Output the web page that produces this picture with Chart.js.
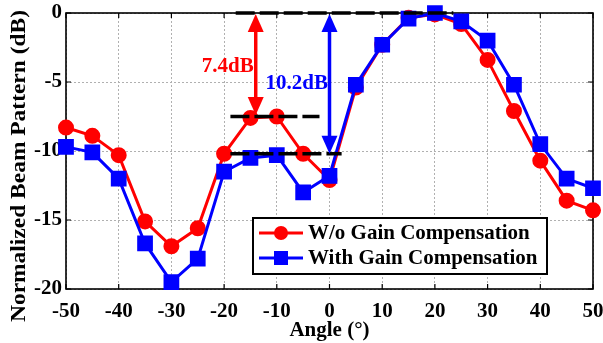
<!DOCTYPE html>
<html>
<head>
<meta charset="utf-8">
<script src="https://cdn.jsdelivr.net/npm/chart.js@4.4.0/dist/chart.umd.min.js"></script>
<style>
  html, body { margin: 0; padding: 0; background: #fff; }
  #wrap { width: 603px; height: 343px; }
</style>
</head>
<body>
<div id="wrap"><canvas id="beamChart" width="603" height="343"></canvas></div>
<script>
// angle sweep (deg) and normalized beam pattern (dB)
const angles = [-50, -45, -40, -35, -30, -25, -20, -15, -10, -5, 0, 5, 10, 15, 20, 25, 30, 35, 40, 45, 50];
const woComp = [-8.3, -8.9, -10.3, -15.1, -16.9, -15.6, -10.2, -7.6, -7.5, -10.2, -12.1, -5.4, -2.3, -0.35, -0.1, -0.8, -3.4, -7.1, -10.7, -13.6, -14.3];
const withComp = [-9.7, -10.1, -12.0, -16.7, -19.5, -17.8, -11.5, -10.5, -10.3, -13.0, -11.8, -5.2, -2.3, -0.4, 0, -0.6, -2.0, -5.2, -9.5, -12.0, -12.7];
const seriesNames = ["W/o Gain Compensation", "With Gain Compensation"];
const yTitle = "Normalized Beam Pattern (dB)";

// reference levels (dashed) : [xStart, xEnd], level
const refTopX = [-17.8, 23.5], refTopY = 0;
const refMidX = [-18.8, -1.9], refMidY = -7.5;
const refLowX = [-18.8, 2.3], refLowY = -10.2;

// arrows: x, from, to ; and their labels
const redArrow = [-14, 0, -7.4];
const blueArrow = [0, 0, -10.2];
const redLabel = "7.4dB";
const blueLabel = "10.2dB";

const FONT = "'Liberation Serif', 'Times New Roman', serif";

function hline(xs, y) {
  return xs.map(x => ({ x: x, y: y }));
}

function arrow(ctx, x, y1, y2, color) {
  const head = 18, half = 8;
  ctx.save();
  ctx.strokeStyle = color;
  ctx.fillStyle = color;
  ctx.lineWidth = 3.5;
  ctx.beginPath();
  ctx.moveTo(x, y1 + head - 2);
  ctx.lineTo(x, y2 - head + 2);
  ctx.stroke();
  ctx.beginPath();
  ctx.moveTo(x, y1);
  ctx.lineTo(x - half, y1 + head);
  ctx.lineTo(x + half, y1 + head);
  ctx.closePath();
  ctx.fill();
  ctx.beginPath();
  ctx.moveTo(x, y2);
  ctx.lineTo(x - half, y2 - head);
  ctx.lineTo(x + half, y2 - head);
  ctx.closePath();
  ctx.fill();
  ctx.restore();
}

// frame + inner ticks + y title
const framePlugin = {
  id: "frame",
  beforeDatasetsDraw(chart) {
    const { ctx, chartArea: a, scales } = chart;
    ctx.save();
    ctx.strokeStyle = "#000";
    ctx.lineWidth = 1.2;
    scales.x.ticks.forEach(t => {
      const px = scales.x.getPixelForValue(t.value);
      ctx.beginPath();
      ctx.moveTo(px, a.bottom); ctx.lineTo(px, a.bottom - 5);
      ctx.moveTo(px, a.top); ctx.lineTo(px, a.top + 5);
      ctx.stroke();
    });
    scales.y.ticks.forEach(t => {
      const py = scales.y.getPixelForValue(t.value);
      ctx.beginPath();
      ctx.moveTo(a.left, py); ctx.lineTo(a.left + 5, py);
      ctx.moveTo(a.right, py); ctx.lineTo(a.right - 5, py);
      ctx.stroke();
    });
    ctx.lineWidth = 1.6;
    ctx.strokeRect(a.left, a.top, a.right - a.left, a.bottom - a.top);

    // y axis title, stretched a little along its length like the original
    ctx.font = "bold 21px " + FONT;
    const w = ctx.measureText(yTitle).width;
    ctx.translate(20, 166);
    ctx.rotate(-Math.PI / 2);
    ctx.scale(312 / w, 1);
    ctx.fillStyle = "#000";
    ctx.textAlign = "center";
    ctx.textBaseline = "middle";
    ctx.fillText(yTitle, 0, 0);
    ctx.restore();
  }
};

// arrows, labels and the boxed legend
const notePlugin = {
  id: "notes",
  afterDatasetsDraw(chart) {
    const { ctx, scales } = chart;
    const sx = scales.x, sy = scales.y;
    arrow(ctx, sx.getPixelForValue(redArrow[0]), sy.getPixelForValue(redArrow[1]) + 1, sy.getPixelForValue(redArrow[2]), "#ff0000");
    arrow(ctx, sx.getPixelForValue(blueArrow[0]), sy.getPixelForValue(blueArrow[1]) + 1, sy.getPixelForValue(blueArrow[2]), "#0000ff");

    ctx.save();
    ctx.font = "bold 21px " + FONT;
    ctx.textAlign = "center";
    ctx.textBaseline = "middle";
    ctx.fillStyle = "#ff0000";
    ctx.fillText(redLabel, sx.getPixelForValue(-19.3), sy.getPixelForValue(-3.9));
    ctx.fillStyle = "#0000ff";
    ctx.fillText(blueLabel, sx.getPixelForValue(-6.2), sy.getPixelForValue(-5.1));

    // legend
    const bx = 253, by = 218, bw = 294, bh = 56;
    ctx.fillStyle = "#fff";
    ctx.fillRect(bx, by, bw, bh);
    ctx.strokeStyle = "#000";
    ctx.lineWidth = 2;
    ctx.strokeRect(bx, by, bw, bh);
    const rows = [
      { y: by + 15, color: "#ff0000", style: "circle" },
      { y: by + 40, color: "#0000ff", style: "rect" }
    ];
    rows.forEach((r, i) => {
      ctx.strokeStyle = r.color;
      ctx.fillStyle = r.color;
      ctx.lineWidth = 3;
      ctx.beginPath();
      ctx.moveTo(259, r.y); ctx.lineTo(303, r.y);
      ctx.stroke();
      if (r.style === "circle") {
        ctx.beginPath();
        ctx.arc(281, r.y, 7, 0, Math.PI * 2);
        ctx.fill();
      } else {
        ctx.fillRect(281 - 7, r.y - 7, 14, 14);
      }
      ctx.fillStyle = "#000";
      ctx.textAlign = "left";
      ctx.fillText(seriesNames[i], 308, r.y + 1);
    });
    ctx.restore();
  }
};

const dashStyle = {
  borderColor: "#000",
  borderWidth: 3.5,
  borderDash: [19, 5],
  pointRadius: 0,
  fill: false,
  order: 0
};

new Chart(document.getElementById("beamChart"), {
  type: "line",
  data: {
    datasets: [
      Object.assign({ data: hline(refTopX, refTopY) }, dashStyle),
      Object.assign({ data: hline(refMidX, refMidY) }, dashStyle),
      Object.assign({ data: hline(refLowX, refLowY) }, dashStyle),
      {
        label: seriesNames[1],
        data: angles.map((a, i) => ({ x: a, y: withComp[i] })),
        borderColor: "#0000ff",
        backgroundColor: "#0000ff",
        borderWidth: 3,
        pointStyle: "rect",
        pointRadius: 9,
        order: 1
      },
      {
        label: seriesNames[0],
        data: angles.map((a, i) => ({ x: a, y: woComp[i] })),
        borderColor: "#ff0000",
        backgroundColor: "#ff0000",
        borderWidth: 3,
        pointStyle: "circle",
        pointRadius: 6.5,
        order: 2
      }
    ]
  },
  options: {
    responsive: false,
    animation: false,
    clip: false,
    layout: { autoPadding: false, padding: { top: 13, right: 10, left: 0, bottom: 0 } },
    plugins: {
      legend: { display: false },
      tooltip: { enabled: false }
    },
    scales: {
      x: {
        type: "linear",
        min: -50,
        max: 50,
        ticks: { stepSize: 10, color: "#000", padding: 10, font: { family: FONT, size: 21, weight: "bold" } },
        grid: { color: "#b0b0b0", lineWidth: 1, drawTicks: false },
        border: { display: false, dash: [2, 2] },
        title: { display: true, text: "Angle (°)", color: "#000", padding: { top: -8, bottom: 0 }, font: { family: FONT, size: 21, weight: "bold" } },
        afterFit(scale) { scale.height = 54; scale.paddingLeft = 0; scale.paddingRight = 0; }
      },
      y: {
        min: -20,
        max: 0,
        ticks: { stepSize: 5, color: "#000", padding: 4, font: { family: FONT, size: 21, weight: "bold" } },
        grid: { color: "#b0b0b0", lineWidth: 1, drawTicks: false },
        border: { display: false, dash: [2, 2] },
        afterFit(scale) { scale.width = 66; scale.paddingTop = 0; scale.paddingBottom = 0; }
      }
    }
  },
  plugins: [framePlugin, notePlugin]
});
</script>
</body>
</html>
